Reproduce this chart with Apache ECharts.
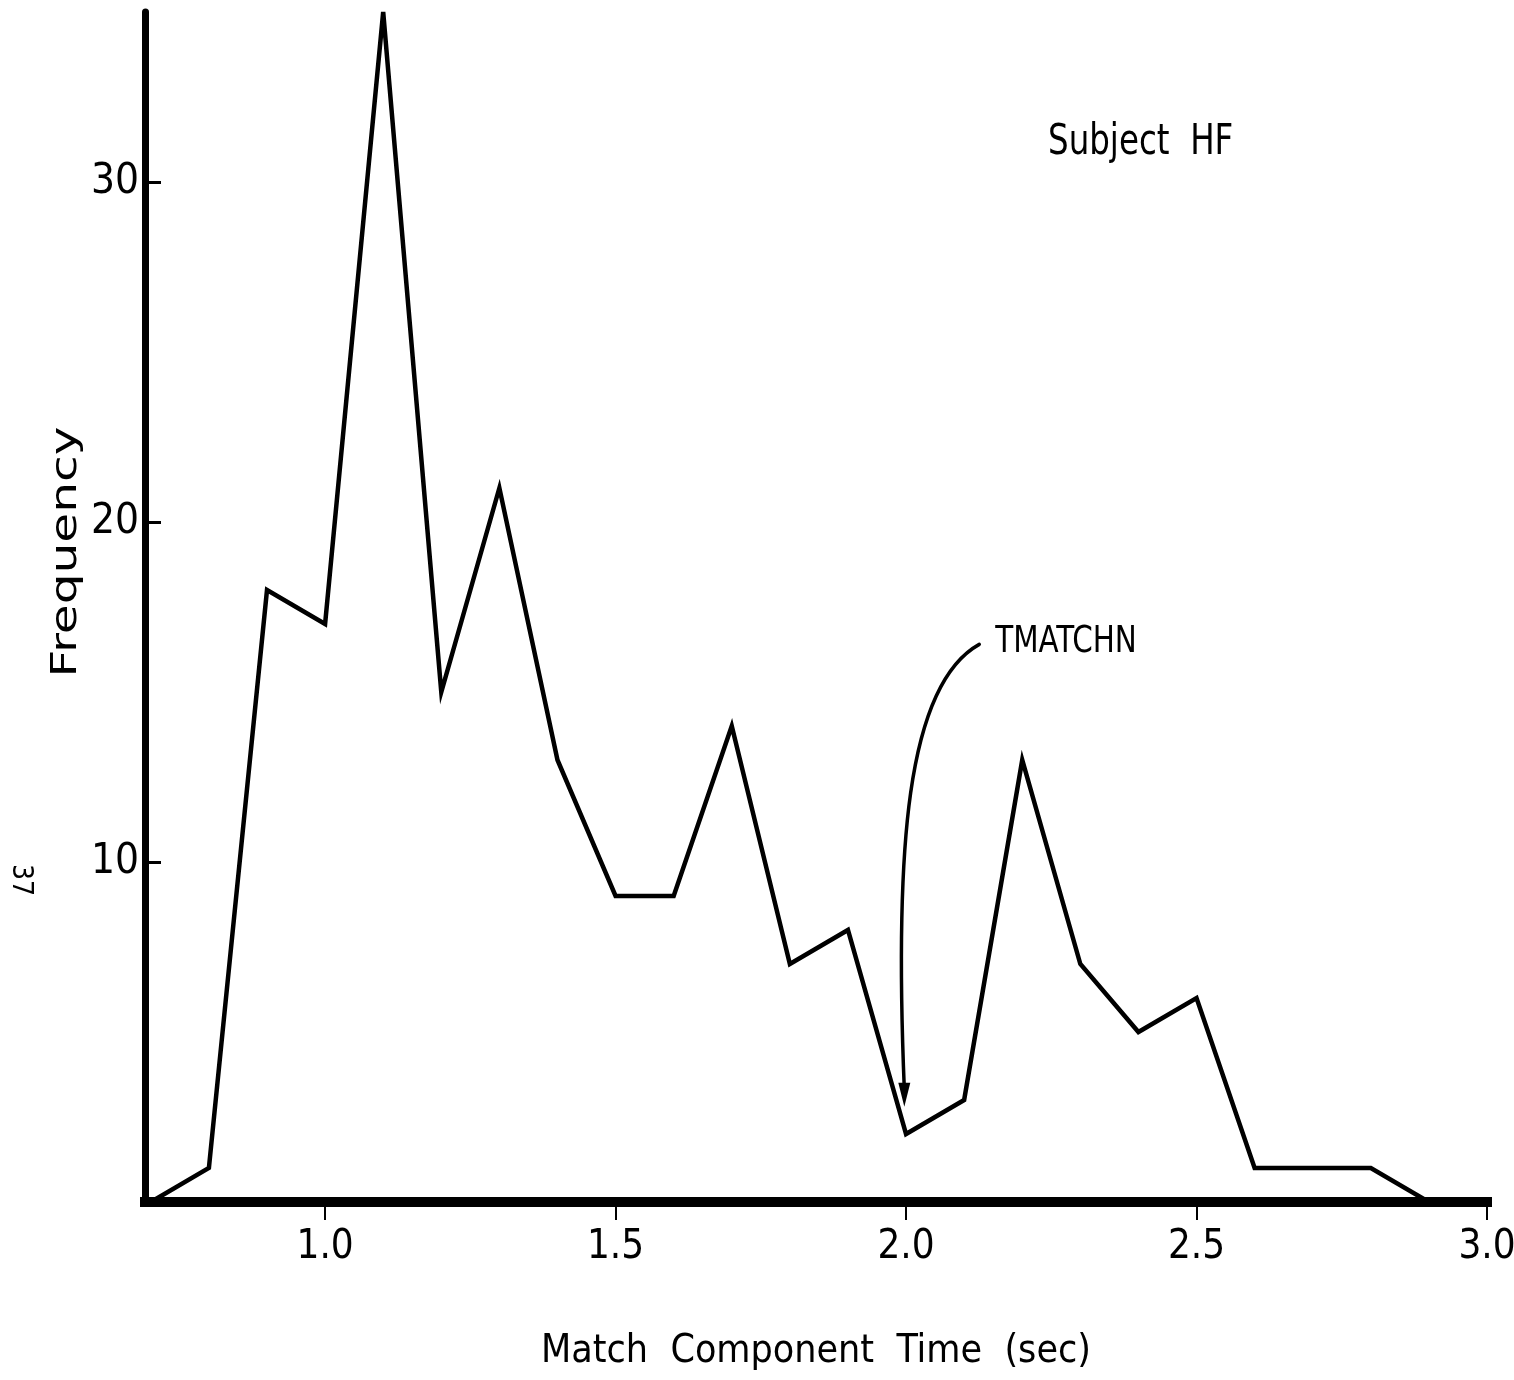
<!DOCTYPE html>
<html>
<head>
<meta charset="utf-8">
<script src="https://cdn.jsdelivr.net/npm/echarts@6/dist/echarts.min.js"></script>
<style>
  html, body { margin: 0; padding: 0; background: #fff; }
  #main { width: 1514px; height: 1380px; }
</style>
</head>
<body>
<div id="main"></div>
<script>
// match component time (sec), one point every 0.1 s
const times = [0.7, 0.8, 0.9, 1.0, 1.1, 1.2, 1.3, 1.4, 1.5, 1.6, 1.7, 1.8,
               1.9, 2.0, 2.1, 2.2, 2.3, 2.4, 2.5, 2.6, 2.7, 2.8, 2.9, 3.0]
// frequency
const freq = [0, 1, 18, 17, 35, 15, 21, 13, 9, 9, 14, 7,
              8, 2, 3, 13, 7, 5, 6, 1, 1, 1, 0, 0]
const xTicks = [1.0, 1.5, 2.0, 2.5, 3.0]
const yTicks = [10, 20, 30]
// TMATCHN arrow, in data units: start, two control points, tip
const arrowPath = [[2.126, 16.4], [2.0, 15.2], [1.98, 10.3], [1.997, 2.8]]

const narrow = "'DejaVu Sans Condensed', sans-serif"

const chart = echarts.init(document.getElementById('main'))

const option = {
  animation: false,
  backgroundColor: '#fff',
  grid: { left: 145, right: 27, top: 12, bottom: 178, outerBoundsMode: 'none' },
  xAxis: {
    type: 'value',
    min: 0.69,
    max: 3.0,
    name: 'Match  Component  Time  (sec)',
    nameLocation: 'middle',
    nameGap: 130,
    nameTextStyle: { fontFamily: narrow, fontSize: 39, color: '#000' },
    splitLine: { show: false },
    axisLine: { onZero: false, lineStyle: { color: '#000', width: 10, cap: 'square' } },
    axisTick: { customValues: xTicks, length: 18, lineStyle: { color: '#000', width: 2 } },
    axisLabel: {
      customValues: xTicks,
      margin: 26,
      fontFamily: narrow,
      fontSize: 40,
      color: '#000',
      formatter: v => v.toFixed(1)
    }
  },
  yAxis: {
    type: 'value',
    min: 0,
    max: 35,
    splitLine: { show: false },
    axisLine: { lineStyle: { color: '#000', width: 7 } },
    axisTick: { customValues: yTicks, inside: true, length: 16, lineStyle: { color: '#000', width: 3 } },
    axisLabel: { customValues: yTicks, margin: 6, fontFamily: narrow, fontSize: 42, color: '#000' }
  },
  series: [{
    type: 'line',
    data: times.map((t, i) => [t, freq[i]]),
    showSymbol: false,
    lineStyle: { color: '#000', width: 4.5, join: 'miter' },
    z: 3
  }]
}
chart.setOption(option)

// annotations drawn after the scales exist
const px = arrowPath.map(p => chart.convertToPixel({ gridIndex: 0 }, p))
const tip = px[3]
chart.setOption({
  graphic: [
    {
      type: 'bezierCurve',
      shape: { x1: px[0][0], y1: px[0][1], cpx1: px[1][0], cpy1: px[1][1],
               cpx2: px[2][0], cpy2: px[2][1], x2: tip[0], y2: tip[1] - 18 },
      style: { stroke: '#000', lineWidth: 3.5, fill: null, lineCap: 'round' }
    },
    {
      type: 'polygon',
      shape: { points: [[tip[0] - 6, tip[1] - 24], [tip[0] + 6, tip[1] - 24], [tip[0], tip[1]]] },
      style: { fill: '#000' }
    },
    {
      type: 'text',
      x: px[0][0] + 16, y: px[0][1] - 2, scaleX: 0.86,
      style: { text: 'TMATCHN', font: '38px ' + narrow, fill: '#000', verticalAlign: 'middle' }
    },
    {
      type: 'text',
      x: 1048, y: 143, scaleX: 0.84,
      style: { text: 'Subject  HF', font: '43px ' + narrow, fill: '#000', verticalAlign: 'middle' }
    },
    {
      type: 'text',
      x: 67, y: 552, rotation: Math.PI / 2, scaleX: 1.35,
      style: { text: 'Frequency', font: '36px "DejaVu Sans", sans-serif', fill: '#000',
               align: 'center', verticalAlign: 'middle' }
    },
    {
      type: 'text',
      x: 20, y: 880, rotation: -Math.PI / 2,
      style: { text: '37', font: '28px ' + narrow, fill: '#000',
               align: 'center', verticalAlign: 'middle' }
    }
  ]
})
</script>
</body>
</html>
